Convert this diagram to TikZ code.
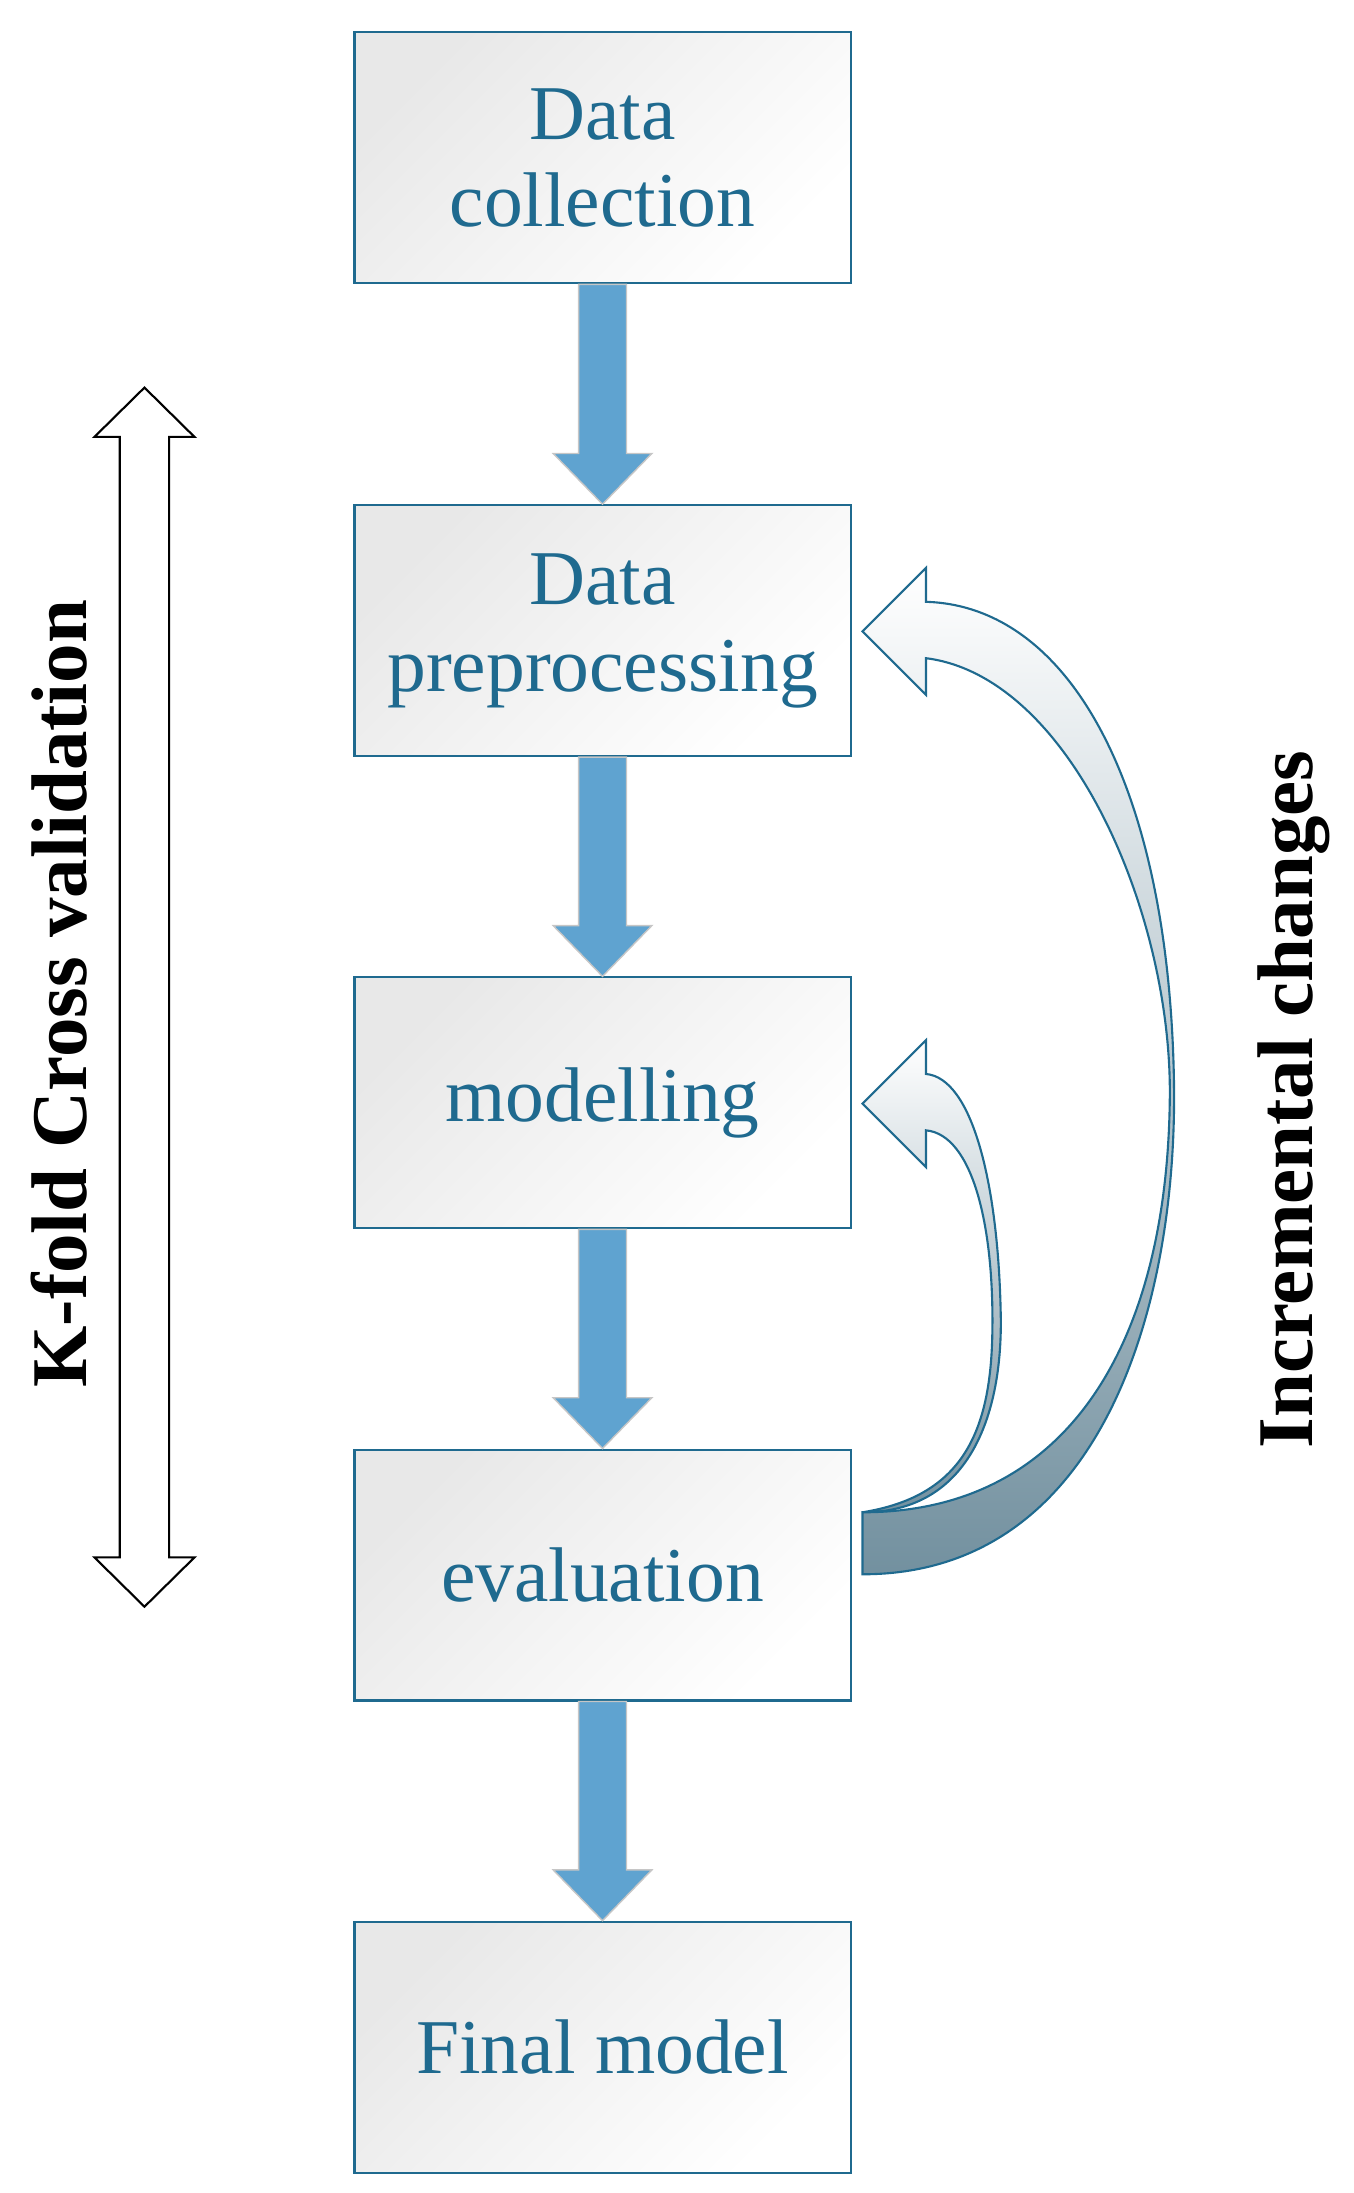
\documentclass[tikz,border=0pt]{standalone}
\usepackage{fontspec}
\setmainfont{Liberation Serif}
\usetikzlibrary{shapes.arrows}
\definecolor{bd}{HTML}{1F6A8F}
\definecolor{ab}{HTML}{5FA3D0}
\begin{document}
\begin{tikzpicture}[x=1pt,y=-1pt,
 box/.style={draw=bd,line width=1.5pt,minimum width=352pt,minimum height=178pt,inner sep=0pt,
   left color=gray!18,right color=white,shading angle=45,text=bd,font=\fontsize{55}{62}\selectfont,align=center},
 lbl/.style={font=\fontsize{56}{60}\selectfont\bfseries,rotate=90}]
\useasboundingbox (0,0) rectangle (960,1556);
\node[box] (b1) at (427.5,112) {Data\\collection};
\node[box] (b2) at (427.5,447.5) {Data\\preprocessing};
\node[box] (b3) at (427.5,782.5) {modelling};
\node[box] (b4) at (427.5,1117.5) {evaluation};
\node[box] (b5) at (427.5,1452.5) {Final model};
\foreach \a/\b in {b1/b2,b2/b3,b3/b4,b4/b5}{
 \path (\a.south) coordinate (s) (\b.north) coordinate (t);
 \fill[ab,draw=gray!45,line width=1pt] ([xshift=-17pt]s) -- ([xshift=17pt]s) -- ([xshift=17pt,yshift=36pt]t) -- ([xshift=35pt,yshift=36pt]t) -- (t) -- ([xshift=-35pt,yshift=36pt]t) -- ([xshift=-17pt,yshift=36pt]t) -- cycle;
}
\coordinate (kt) at (102.5,275);
\coordinate (kb) at (102.5,1140);
\draw[fill=white,line width=1.5pt,line join=miter] (kt) -- (138,310) -- (120,310) -- (120,1105) -- (138,1105) -- (kb) -- (67,1105) -- (85,1105) -- (85,310) -- (67,310) -- cycle;
\node[lbl] (k) at (42,705) {K-fold Cross validation};
\node[lbl] (ic) at (918,780) {Incremental changes};
\draw[bd,line width=1.5pt,top color=white,bottom color=bd!50!gray!80,shading angle=0]
 (612,1073) .. controls (690,1073) and (712,1000) .. (710,930)
 .. controls (708,840) and (690,765) .. (657,762) -- (657,738) -- (612,783) -- (657,828) -- (657,802)
 .. controls (690,805) and (706,870) .. (704,950) .. controls (702,1020) and (680,1062) .. (612,1073) -- cycle;
\draw[bd,line width=1.5pt,top color=white,bottom color=bd!50!gray!80,shading angle=0]
 (612,1073) -- (612,1117) .. controls (780,1117) and (835,930) .. (833,770)
 .. controls (830,560) and (760,430) .. (657,427) -- (657,403) -- (612,448) -- (657,493) -- (657,467)
 .. controls (760,480) and (832,650) .. (830,780) .. controls (828,950) and (760,1073) .. (612,1073) -- cycle;
\end{tikzpicture}
\end{document}
